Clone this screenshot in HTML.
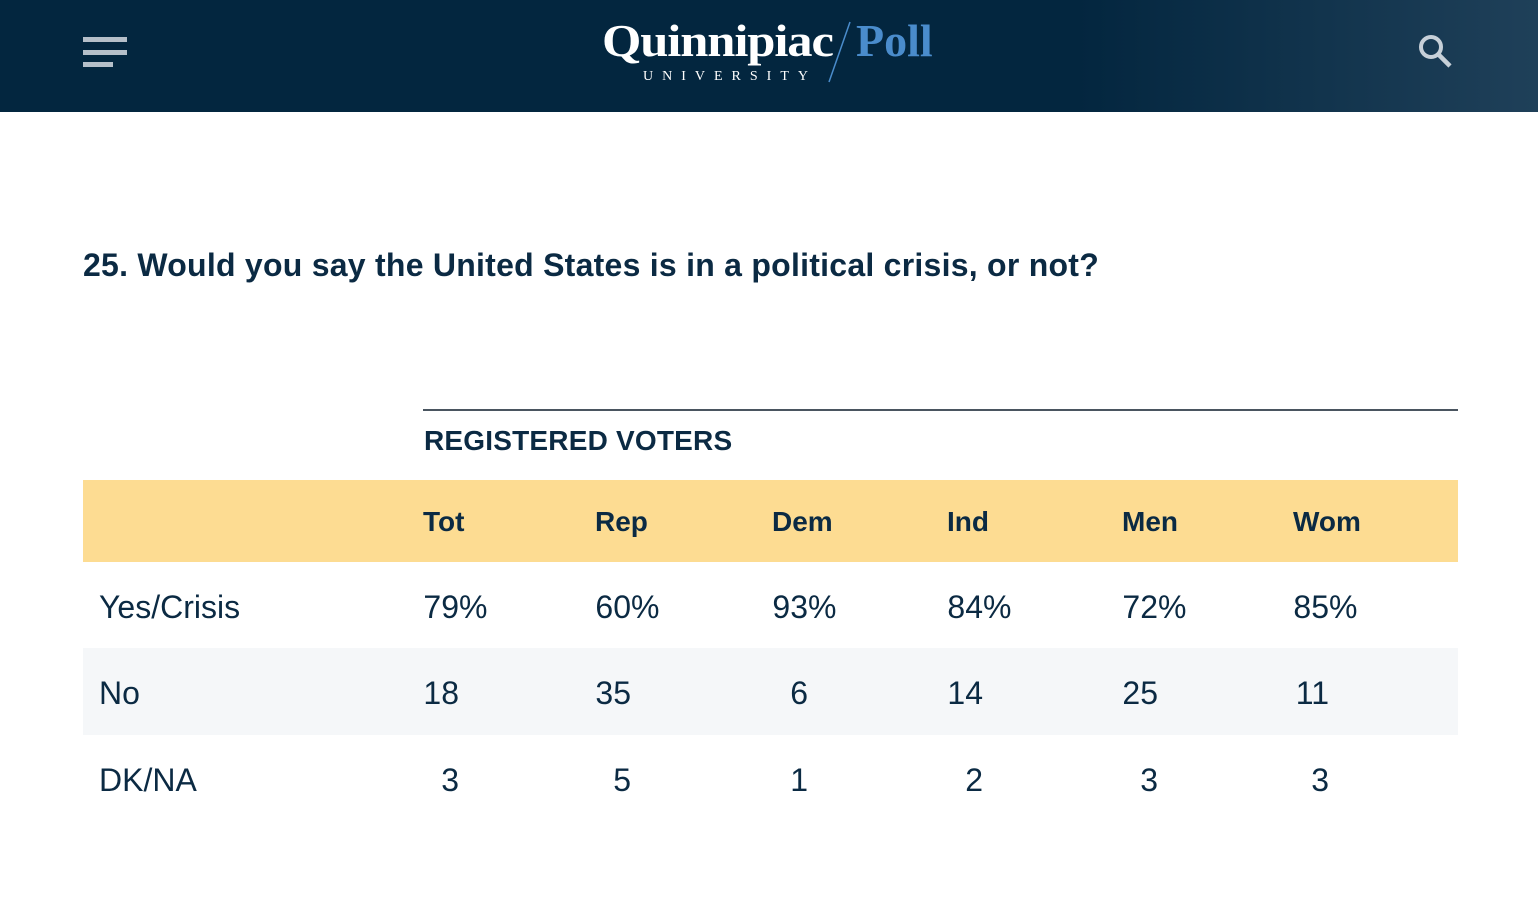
<!DOCTYPE html>
<html><head><meta charset="utf-8">
<style>
*{margin:0;padding:0;box-sizing:border-box}
body{width:1538px;height:915px;background:#fff;font-family:"Liberation Sans",sans-serif;color:#0b2a43;position:relative;overflow:hidden}
#hdr{position:absolute;left:0;top:0;width:1538px;height:112px;background:linear-gradient(90deg,#03263f 0%,#03263f 70%,#1f4059 100%)}
.bar{position:absolute;left:83px;height:5px;background:#b5bfc9}
.t{position:absolute;white-space:nowrap}
</style></head><body>
<div id="hdr">
  <div class="bar" style="top:37px;width:44px"></div>
  <div class="bar" style="top:50px;width:44px"></div>
  <div class="bar" style="top:62px;width:30px"></div>
  <div class="t" style="left:602px;top:14px;font-family:'Liberation Serif',serif;font-weight:bold;font-size:46px;color:#fff;letter-spacing:-1px;transform:scaleX(1.1);transform-origin:left top">Quinnipiac</div>
  <div class="t" style="left:643px;top:69px;font-family:'Liberation Serif',serif;font-size:14px;color:#fff;letter-spacing:9px">UNIVERSITY</div>
  <svg style="position:absolute;left:826px;top:20px" width="30" height="64"><line x1="24" y1="2" x2="3" y2="62" stroke="#4a8ccc" stroke-width="1.5"/></svg>
  <div class="t" style="left:856px;top:14px;font-family:'Liberation Serif',serif;font-weight:bold;font-size:46px;color:#4a8ccc">Poll</div>
  <svg style="position:absolute;left:1416px;top:32px" width="40" height="40"><circle cx="15" cy="15" r="10" fill="none" stroke="#c7d0d8" stroke-width="4"/><line x1="22" y1="22" x2="34" y2="34" stroke="#c7d0d8" stroke-width="4.5"/></svg>
</div>
<div class="t" style="left:83px;top:247px;font-size:32px;font-weight:bold;color:#0b2a43;letter-spacing:0.25px">25. Would you say the United States is in a political crisis, or not?</div>
<div style="position:absolute;left:423px;top:409px;width:1035px;height:2px;background:#4a5560"></div>
<div class="t" style="left:424px;top:425px;font-size:28px;font-weight:bold;letter-spacing:0.2px">REGISTERED VOTERS</div>
<div style="position:absolute;left:83px;top:480px;width:1375px;height:82px;background:#fddc92"></div>
<div style="position:absolute;left:83px;top:648px;width:1375px;height:87px;background:#f5f7f9"></div>
<div id="tbl"></div>
<script>
const columns = ["Tot","Rep","Dem","Ind","Men","Wom"];
const rowLabels = ["Yes/Crisis","No","DK/NA"];
const yesValues = [79,60,93,84,72,85];
const noValues = [18,35,6,14,25,11];
const dkValues = [3,5,1,2,3,3];
const series = [yesValues,noValues,dkValues];
const colX = [423,595,772,947,1122,1293];
const rowY = [607,693,780];
const tbl = document.getElementById('tbl');
columns.forEach((c,i)=>{
  const d=document.createElement('div');
  d.className='t';
  
  
  d.style.cssText=`left:${colX[i]}px;top:506px;font-size:28px;font-weight:bold`;
  d.textContent=c;
  tbl.appendChild(d);
});
rowLabels.forEach((r,ri)=>{
  const l=document.createElement('div');
  l.className='t';
  
  
  l.style.cssText=`left:99px;top:${rowY[ri]-18}px;font-size:32px`;
  l.textContent=r;
  tbl.appendChild(l);
  series[ri].forEach((v,ci)=>{
    const d=document.createElement('div');
    d.className='t';
    
    
    d.style.cssText=`left:${colX[ci]-3}px;top:${rowY[ri]-18}px;font-size:32px`;
    d.innerHTML=`<span style="display:inline-block;width:39px;text-align:right">${v}</span>${ri===0?'%':''}`;
    tbl.appendChild(d);
  });
});
</script>
</body></html>
